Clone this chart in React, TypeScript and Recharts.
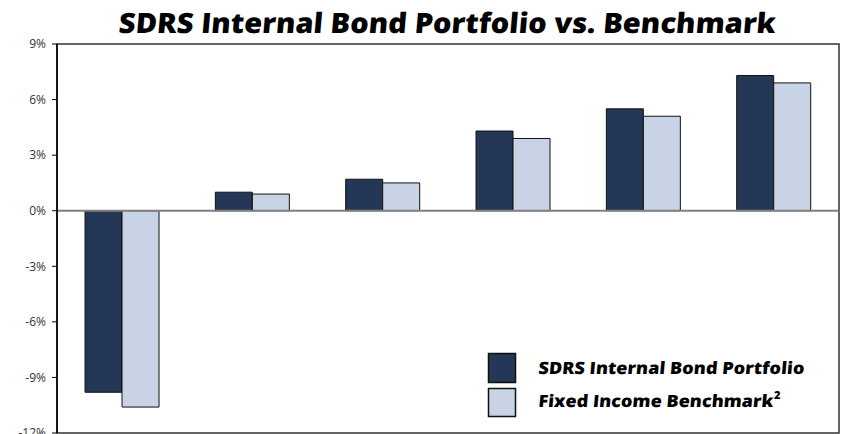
import {
  BarChart,
  Bar,
  XAxis,
  YAxis,
  ReferenceLine,
  ReferenceArea,
} from "recharts";

const periods = ["Period 1", "Period 2", "Period 3", "Period 4", "Period 5", "Period 6"];
const portfolio = [-9.8, 1.0, 1.7, 4.3, 5.5, 7.3];
const benchmark = [-10.6, 0.9, 1.5, 3.9, 5.1, 6.9];
const yTicks = [-12, -9, -6, -3, 0, 3, 6, 9];
const seriesNames = ["SDRS Internal Bond Portfolio", "Fixed Income Benchmark"];
const title = "SDRS Internal Bond Portfolio vs. Benchmark";

const DARK = "#243756";
const LIGHT = "#c8d4e6";
const FONT = "'Open Sans', 'DejaVu Sans', sans-serif";

const data = periods.map((p, i) => ({
  period: p,
  portfolio: portfolio[i],
  benchmark: benchmark[i],
}));

// light slant, the original font is only slightly oblique
const slant = (y: number) => `translate(${(0.09 * y).toFixed(2)},0) skewX(-5)`;

// title + legend drawn on top of the chart
function Overlay() {
  return (
    <svg
      width={843}
      height={434}
      style={{ position: "absolute", left: 0, top: 0, pointerEvents: "none" }}
    >
      <text
        x={118}
        y={33}
        textLength={657}
        lengthAdjust="spacingAndGlyphs"
        transform={slant(33)}
        fontFamily={FONT}
        fontWeight={800}
        fontSize={28}
        fill="#000"
      >
        {title}
      </text>
      <rect x={488.5} y={353.5} width={27} height={29} fill={DARK} stroke="#111" strokeWidth={1.5} />
      <rect x={488.5} y={388.5} width={27} height={28} fill={LIGHT} stroke="#111" strokeWidth={1.5} />
      <text
        x={537}
        y={374}
        textLength={266}
        lengthAdjust="spacingAndGlyphs"
        transform={slant(374)}
        fontFamily={FONT}
        fontWeight={800}
        fontSize={17}
        fill="#000"
      >
        {seriesNames[0]}
      </text>
      <text
        x={537}
        y={407}
        textLength={235}
        lengthAdjust="spacingAndGlyphs"
        transform={slant(407)}
        fontFamily={FONT}
        fontWeight={800}
        fontSize={17}
        fill="#000"
      >
        {seriesNames[1]}
      </text>
      <text x={774} y={399} fontFamily={FONT} fontWeight={800} fontSize={11} fill="#000">
        2
      </text>
    </svg>
  );
}

export default function App() {
  return (
    <div
      style={{
        position: "absolute",
        left: 0,
        top: 0,
        width: 843,
        height: 434,
        background: "#fff",
        overflow: "hidden",
      }}
    >
      <BarChart
        width={843}
        height={434}
        data={data}
        margin={{ top: 44, right: 4, left: 0, bottom: 1 }}
        barCategoryGap="21.5%"
        barGap={0}
      >
        <XAxis dataKey="period" hide />
        <YAxis
          domain={[-12, 9]}
          ticks={yTicks}
          width={57}
          tickSize={5}
          tickMargin={6}
          tickFormatter={(v) => `${v}%`}
          tick={{ fill: "#333", fontSize: 12, fontFamily: FONT }}
          axisLine={{ stroke: "#000", strokeWidth: 1.5 }}
          tickLine={{ stroke: "#000" }}
          interval={0}
        />
        <ReferenceArea y1={-12} y2={9} fill="none" stroke="#333" strokeWidth={1.5} ifOverflow="visible" />
        <ReferenceLine y={0} stroke="#808080" strokeWidth={2} />
        <Bar
          dataKey="portfolio"
          name={seriesNames[0]}
          fill={DARK}
          stroke="#111"
          strokeWidth={1}
          isAnimationActive={false}
        />
        <Bar
          dataKey="benchmark"
          name={seriesNames[1]}
          fill={LIGHT}
          stroke="#111"
          strokeWidth={1}
          isAnimationActive={false}
        />
      </BarChart>
      <Overlay />
    </div>
  );
}
